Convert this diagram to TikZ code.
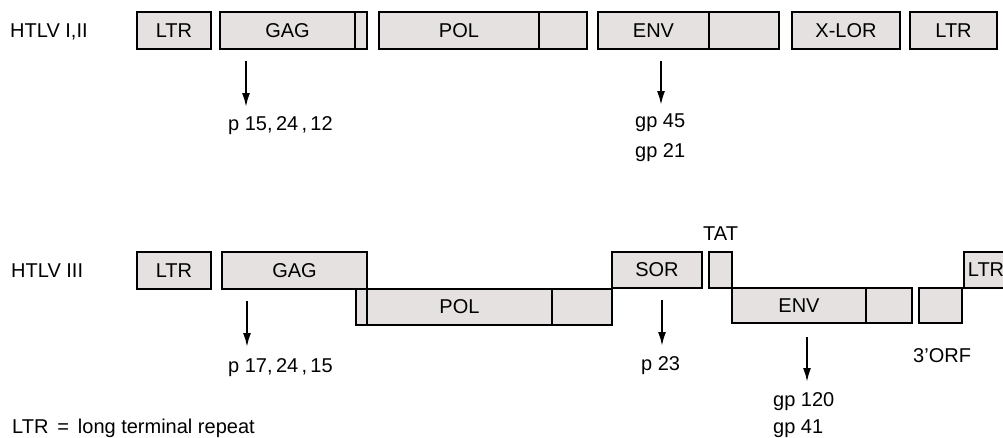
\documentclass[tikz,border=0pt]{standalone}
\usepackage{fontspec}
\setmainfont{Liberation Sans}
\usetikzlibrary{arrows.meta}
\definecolor{genefill}{RGB}{229,225,225}
\begin{document}
\begin{tikzpicture}[x=1pt,y=-1pt,
  every node/.style={font=\fontsize{20}{24}\selectfont},
  gene/.style={draw=black,line width=2pt,fill=genefill,rectangle,inner sep=0pt,outer sep=0pt},
  lbl/.style={anchor=base west,inner sep=0pt},
  arr/.style={line width=2pt,-{Latex[length=14pt,width=8pt]}}]
\useasboundingbox (0,0) rectangle (1003,437);
\fill[white] (0,0) rectangle (1003,437);
\clip (0,0) rectangle (1003,437);
% ---- top row: HTLV I,II
\node[lbl] (t1) at (10,37) {HTLV I,II};
\node[gene,minimum width=74pt,minimum height=37pt] (ltr1) at (174,30.5) {LTR};
\node[gene,minimum width=135pt,minimum height=37pt] (gag1) at (287.5,30.5) {GAG};
\node[gene,minimum width=12pt,minimum height=37pt] (gag1b) at (361,30.5) {};
\node[gene,minimum width=160pt,minimum height=37pt] (pol1) at (459,30.5) {POL};
\node[gene,minimum width=48pt,minimum height=37pt] (pol1b) at (563,30.5) {};
\node[gene,minimum width=111pt,minimum height=37pt] (env1) at (653.5,30.5) {ENV};
\node[gene,minimum width=70pt,minimum height=37pt] (env1b) at (744,30.5) {};
\node[gene,minimum width=108pt,minimum height=37pt] (xlor) at (846,30.5) {X-LOR};
\node[gene,minimum width=87pt,minimum height=37pt] (ltr2) at (953.5,30.5) {LTR};
\coordinate (a1s) at (246,61); \coordinate (a1e) at (246,107);
\coordinate (a2s) at (661,61); \coordinate (a2e) at (661,105);
\draw[arr] (a1s) -- (a1e);
\draw[arr] (a2s) -- (a2e);
\node[lbl] (p1) at (228,130) {p 15,\,24\,,\,12};
\node[lbl] (g1) at (635,127) {gp 45};
\node[lbl] (g2) at (635,157) {gp 21};
% ---- bottom row: HTLV III
\node[lbl] (t2) at (11,277) {HTLV III};
\node[gene,minimum width=74pt,minimum height=37pt] (ltr3) at (174,270.5) {LTR};
\node[gene,minimum width=145pt,minimum height=37pt] (gag2) at (294.5,270.5) {GAG};
\node[gene,minimum width=11pt,minimum height=36pt] (pol2a) at (361.5,307) {};
\node[gene,minimum width=185pt,minimum height=36pt] (pol2) at (459.5,307) {POL};
\node[gene,minimum width=60pt,minimum height=36pt] (pol2b) at (582,307) {};
\node[gene,minimum width=90pt,minimum height=36pt] (sor) at (657,270) {SOR};
\node[gene,minimum width=23pt,minimum height=36pt] (tat) at (720.5,270) {};
\node[gene,minimum width=134pt,minimum height=35pt] (env2) at (799,305.5) {ENV};
\node[gene,minimum width=46pt,minimum height=35pt] (env2b) at (889,305.5) {};
\node[gene,minimum width=43pt,minimum height=35pt] (orf) at (940.5,305.5) {};
\node[gene,minimum width=45pt,minimum height=36pt] (ltr4) at (986,270) {LTR};
\draw[line width=2pt] (gag2.north east) -- (pol2.south west);
\node[lbl] (tatl) at (703,240) {TAT};
\coordinate (b1s) at (247,301); \coordinate (b1e) at (247,347);
\coordinate (b2s) at (662,300); \coordinate (b2e) at (662,346);
\coordinate (b3s) at (807,337); \coordinate (b3e) at (807,382);
\draw[arr] (b1s) -- (b1e);
\draw[arr] (b2s) -- (b2e);
\draw[arr] (b3s) -- (b3e);
\node[lbl] (p2) at (228,372) {p 17,\,24\,,\,15};
\node[lbl] (p3) at (641,370) {p 23};
\node[lbl] (g3) at (773,406) {gp 120};
\node[lbl] (g4) at (773,433) {gp 41};
\node[lbl] (orfl) at (913,362) {3’ORF};
\node[lbl] (key) at (12,433) {LTR \,=\, long terminal repeat};
\end{tikzpicture}
\end{document}
